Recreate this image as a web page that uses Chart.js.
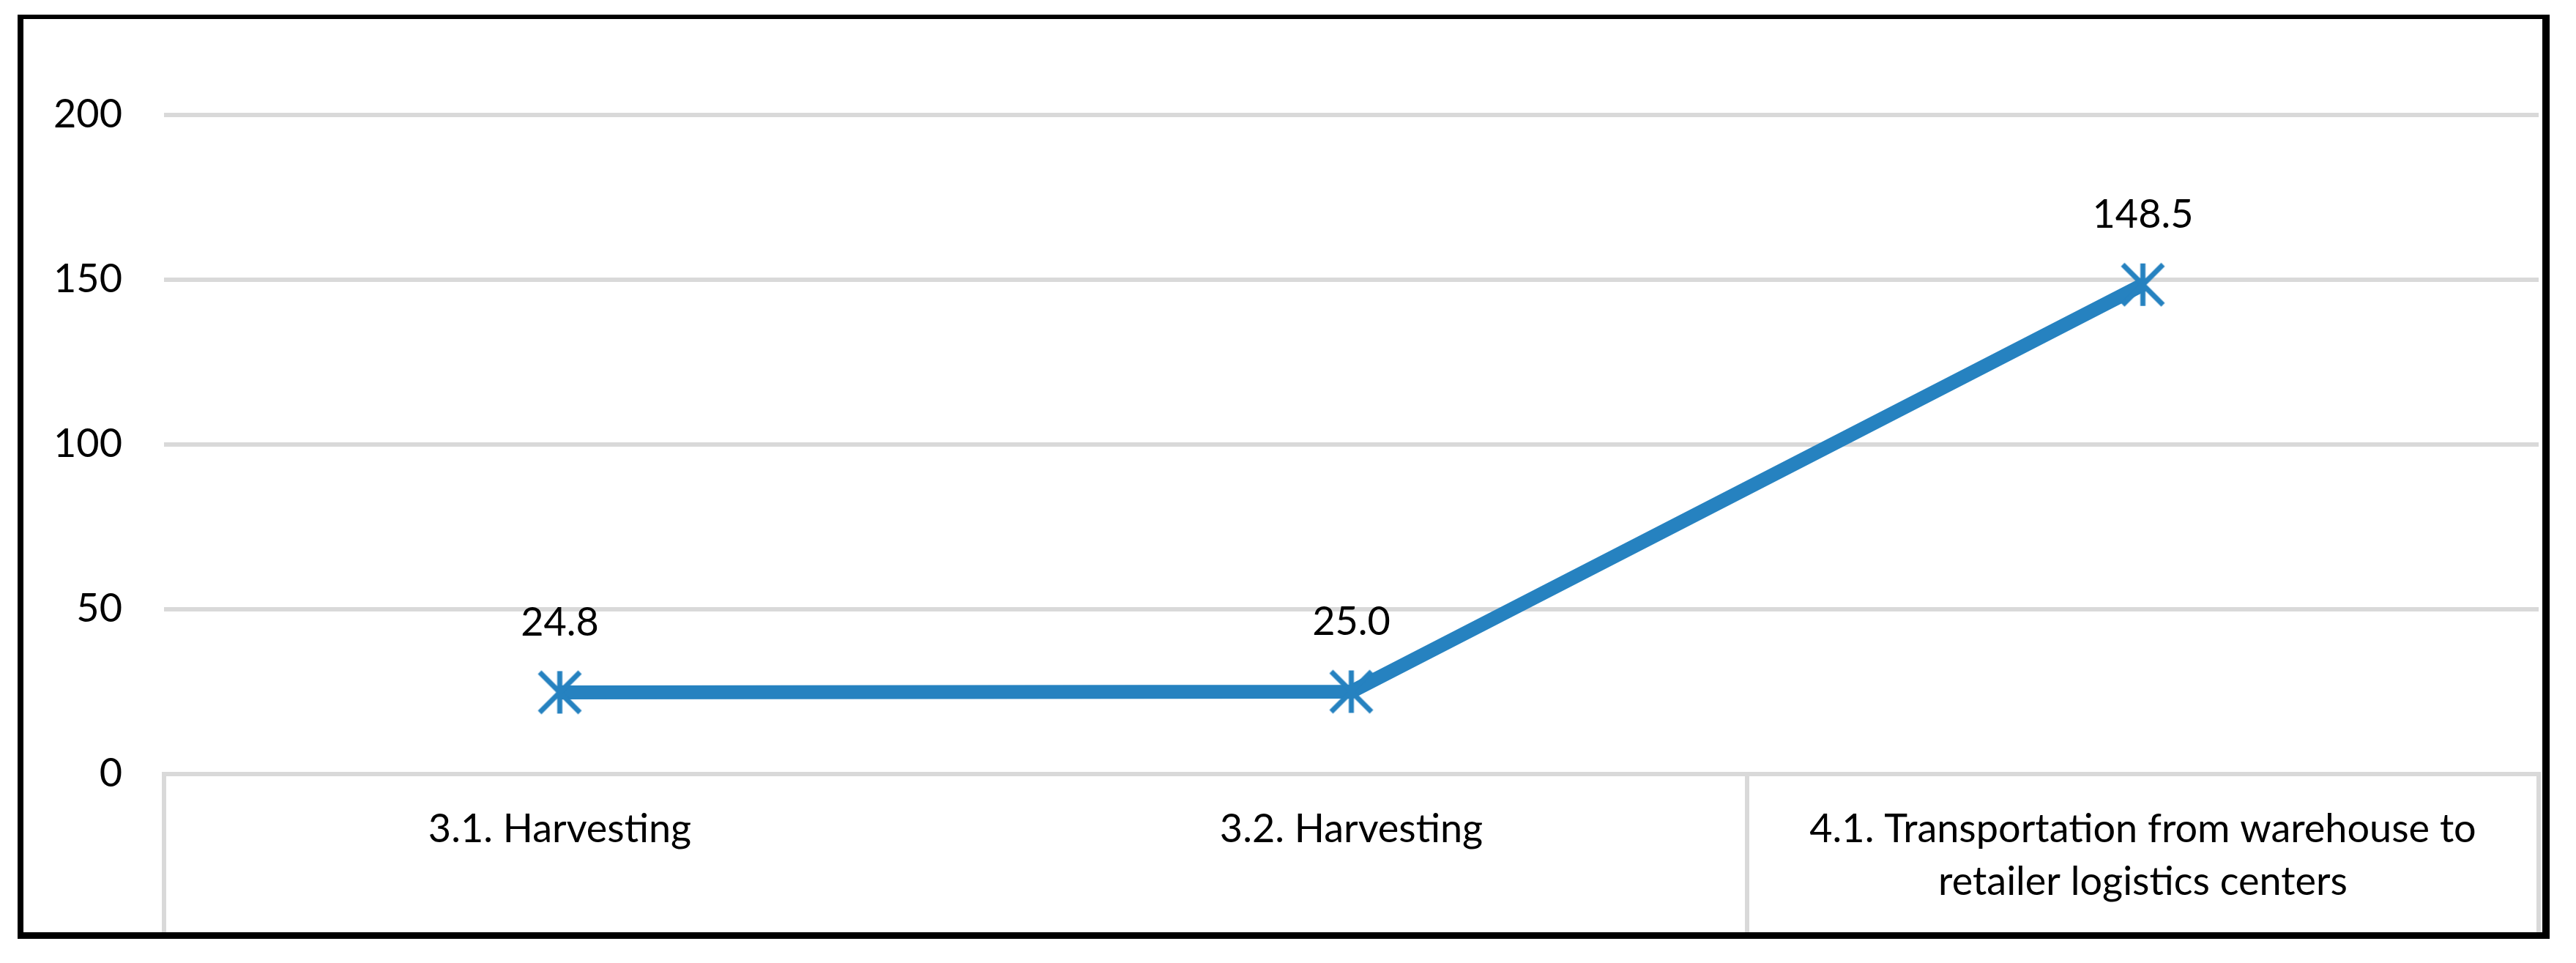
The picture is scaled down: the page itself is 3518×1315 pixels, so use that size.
<!DOCTYPE html>
<html>
<head>
<meta charset="utf-8">
<script src="https://cdn.jsdelivr.net/npm/chart.js@4/dist/chart.umd.min.js"></script>
<style>
  html, body { margin: 0; padding: 0; background: #fff; }
  canvas { display: block; }
</style>
</head>
<body>
<canvas id="c" width="3518" height="1315"></canvas>
<script>
// ---- data ----
const categories = [
  "3.1. Harvesting",
  "3.2. Harvesting",
  ["4.1. Transportation from warehouse to", "retailer logistics centers"]
];
const values = [24.8, 25.0, 148.5];
const yTicks = [0, 50, 100, 150, 200];

const FONT = "Lato, 'Noto Sans', sans-serif";
const LINE_COLOR = "rgb(38,130,192)";
const GRID = "#d9d9d9";

// Excel-style "star" marker: X plus a vertical bar
function makeStar(size, lw, color) {
  const c = document.createElement("canvas");
  c.width = size; c.height = size;
  const g = c.getContext("2d");
  g.strokeStyle = color; g.lineWidth = lw; g.lineCap = "butt";
  const m = lw / 2 + 1;
  g.beginPath();
  g.moveTo(m, m); g.lineTo(size - m, size - m);
  g.moveTo(size - m, m); g.lineTo(m, size - m);
  g.moveTo(size / 2, 3); g.lineTo(size / 2, size - 3);
  g.stroke();
  return c;
}
const star = makeStar(64, 7, LINE_COLOR);

const dataLabels = {
  id: "dataLabels",
  afterDatasetsDraw(chart) {
    const ctx = chart.ctx;
    const meta = chart.getDatasetMeta(0);
    ctx.save();
    ctx.font = "54px " + FONT;
    ctx.fillStyle = "#000";
    ctx.textAlign = "center";
    ctx.textBaseline = "middle";
    meta.data.forEach((pt, i) => {
      ctx.fillText(values[i].toFixed(1), pt.x, pt.y - 95);
    });
    ctx.restore();
  }
};

const frame = {
  id: "frame",
  afterDraw(chart) {
    const ctx = chart.ctx;
    ctx.save();
    ctx.fillStyle = "#000";
    ctx.fillRect(24, 20, 3458, 6);     // top
    ctx.fillRect(24, 20, 8, 1262);     // left
    ctx.fillRect(3472, 20, 10, 1262);  // right
    ctx.fillRect(24, 1273, 3458, 9);   // bottom
    ctx.restore();
  }
};

Chart.defaults.color = "#000";

new Chart(document.getElementById("c"), {
  type: "line",
  data: {
    labels: categories,
    datasets: [{
      data: values,
      borderColor: LINE_COLOR,
      backgroundColor: LINE_COLOR,
      borderWidth: 19,
      tension: 0,
      fill: false,
      pointStyle: star,
      pointRadius: 32,
      pointHoverRadius: 32
    }]
  },
  options: {
    responsive: false,
    animation: false,
    devicePixelRatio: 1,
    layout: { padding: { top: 157, right: 44, bottom: 40, left: 0 } },
    plugins: { legend: { display: false }, tooltip: { enabled: false } },
    scales: {
      x: {
        type: "category",
        offset: true,
        grid: {
          offset: true,
          drawOnChartArea: false,
          drawTicks: true,
          tickLength: 218,
          lineWidth: 6,
          color: (ctx) => (ctx.index === 1 ? "rgba(0,0,0,0)" : GRID)
        },
        border: { display: true, color: GRID, width: 6 },
        ticks: {
          maxRotation: 0,
          autoSkip: false,
          padding: -178,
          font: { family: FONT, size: 54, lineHeight: 1.333 },
          color: "#000"
        },
        afterFit(scale) { scale.height = 218; }
      },
      y: {
        min: 0,
        max: 200,
        afterBuildTicks(scale) { scale.ticks = yTicks.map(v => ({ value: v })); },
        grid: { color: GRID, lineWidth: 6, drawTicks: false },
        border: { display: false },
        ticks: {
          padding: 57,
          font: { family: FONT, size: 54 },
          color: "#000"
        },
        afterFit(scale) { scale.width = 224; }
      }
    }
  },
  plugins: [dataLabels, frame]
});
</script>
</body>
</html>
